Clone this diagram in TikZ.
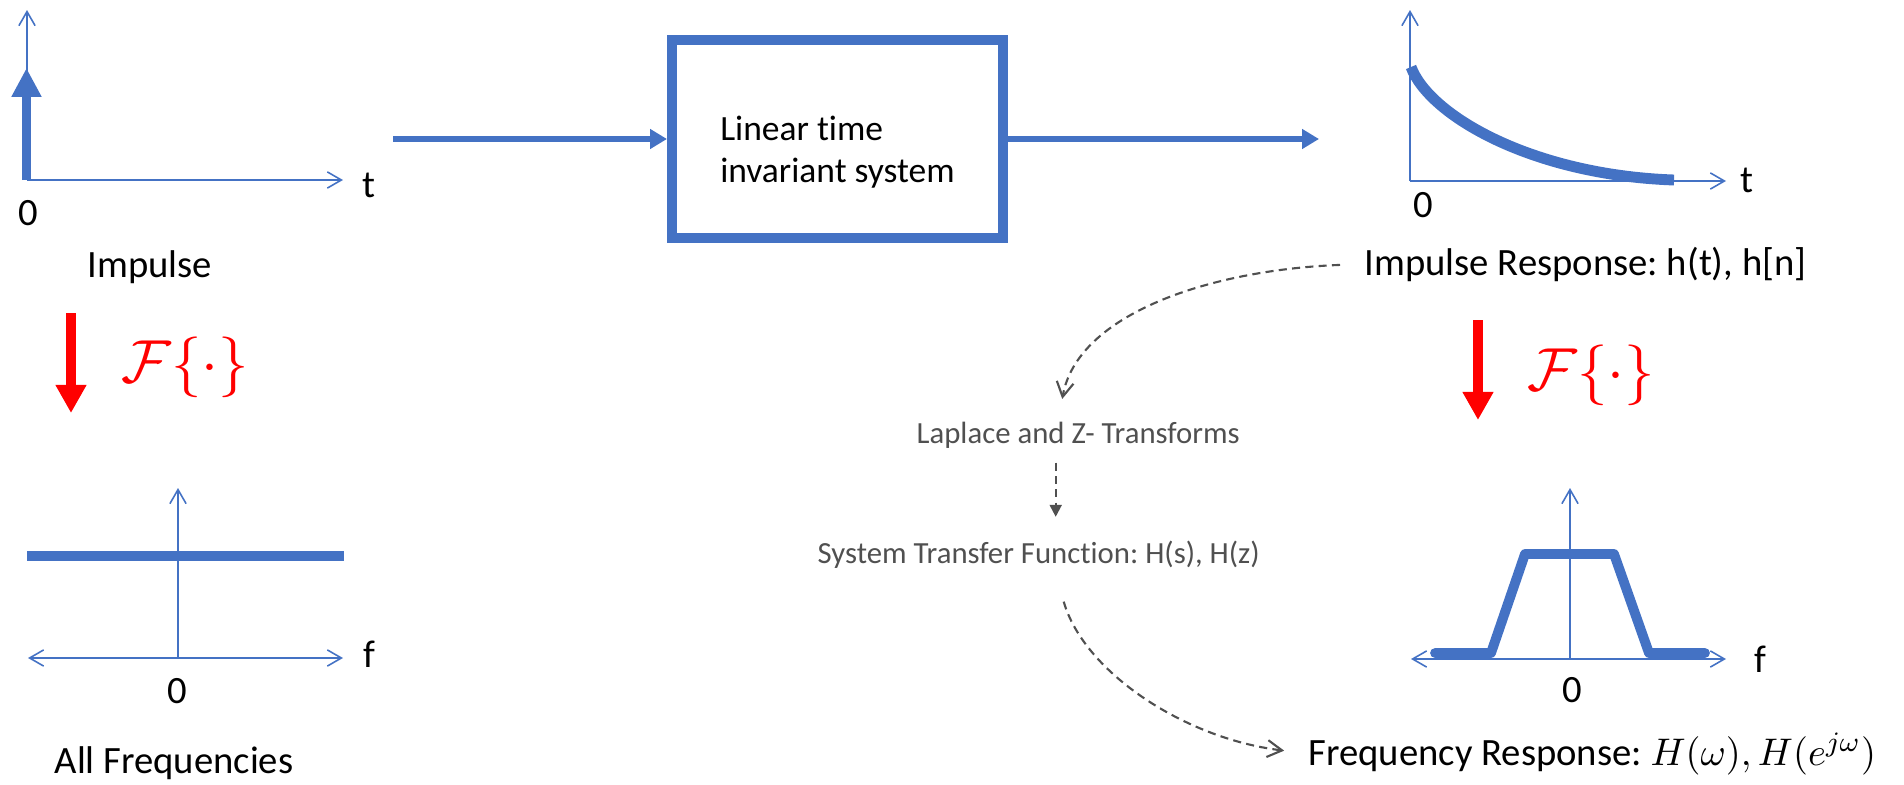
\documentclass[tikz,border=0pt]{standalone}
\usepackage{fontspec}
\setmainfont{Carlito}[Ligatures=NoCommon]
\usepackage{amsmath, amssymb}
\usetikzlibrary{arrows.meta}

\definecolor{ltiblue}{HTML}{4472C4}
\definecolor{notegray}{HTML}{505050}

\tikzset{
	axisline/.style={ltiblue, line width=0.45pt, -{Straight Barb[length=4pt,width=4.6pt]}},
	axisboth/.style={ltiblue, line width=0.45pt, {Straight Barb[length=4pt,width=4.6pt]}-{Straight Barb[length=4pt,width=4.6pt]}},
	signal/.style={ltiblue, line width=2.8pt},
	flow/.style={ltiblue, line width=1.85pt, -{Triangle[length=4.8pt,width=5.4pt]}},
	fourier/.style={red, line width=2.7pt, -{Triangle[length=8pt,width=8.3pt]}},
	ltibox/.style={draw=ltiblue, line width=2.85pt, minimum width=3.31cm, minimum height=1.98cm},
	lbl/.style={font=\fontsize{11}{13}\selectfont, anchor=base, inner sep=0pt},
	boxtext/.style={font=\fontsize{10.1}{12}\selectfont, align=left, inner sep=0pt},
	note/.style={font=\fontsize{8.75}{10}\selectfont, text=notegray, anchor=base west, inner sep=0pt},
	noteflow/.style={notegray, line width=0.6pt, dash pattern=on 2.3pt off 1.5pt},
	ftlbl/.style={red, font=\fontsize{17}{20}\selectfont, inner sep=0pt}
}

\begin{document}
\frenchspacing
\begin{tikzpicture}
	\useasboundingbox (0,0) rectangle (19.04,-7.85);

	% impulse input
	\draw[axisline] (0.27,-1.80) -- (3.43,-1.80);
	\draw[axisline] (0.27,-1.80) -- (0.27,-0.10);
	\draw[ltiblue, line width=2.6pt, -{Triangle[length=8.2pt,width=8pt]}] (0.265,-1.80) -- (0.265,-0.68);
	\node[lbl] (tin) at (3.69,-1.97) {t};
	\node[lbl] (zin) at (0.285,-2.25) {0};
	\node[lbl] (imp) at (1.50,-2.77) {Impulse};

	% system block
	\node[ltibox] (lti) at (8.375,-1.39) {};
	\node[boxtext] (ltitext) at ([yshift=-0.13cm]lti.center) {Linear time\\invariant system};
	\coordinate (src) at (3.93,-1.39);
	\coordinate (snk) at (13.19,-1.39);
	\draw[flow] (src) -- (lti.west);
	\draw[flow] (lti.east) -- (snk);

	% impulse response
	\draw[axisline] (14.10,-1.81) -- (17.26,-1.81);
	\draw[axisline] (14.10,-1.81) -- (14.10,-0.10);
	\draw[signal, line width=3.1pt] (14.11,-0.67) .. controls (14.29,-1.15) and (15.31,-1.75) .. (16.74,-1.80);
	\node[lbl] (tout) at (17.47,-1.93) {t};
	\node[lbl] (zout) at (14.23,-2.17) {0};
	\node[lbl, anchor=base west] (irlabel) at (13.64,-2.75) {Impulse Response: h(t), h[n]};

	% fourier transforms
	\coordinate (fa1) at (0.71,-3.13);
	\coordinate (fb1) at (0.71,-4.13);
	\coordinate (fa2) at (14.78,-3.20);
	\coordinate (fb2) at (14.78,-4.20);
	\draw[fourier] (fa1) -- (fb1);
	\draw[fourier] (fa2) -- (fb2);
	\node[ftlbl] (ft1) at (1.85,-3.67) {$\mathcal{F}\{\cdot\}$};
	\node[ftlbl] (ft2) at (15.91,-3.75) {$\mathcal{F}\{\cdot\}$};

	% flat spectrum
	\draw[axisboth] (0.28,-6.58) -- (3.43,-6.58);
	\draw[axisline] (1.78,-6.58) -- (1.78,-4.88);
	\draw[signal, line width=2.6pt] (0.27,-5.56) -- (3.44,-5.56);
	\node[lbl] (fin) at (3.69,-6.67) {f};
	\node[lbl] (zf1) at (1.77,-7.03) {0};
	\node[lbl] (allf) at (1.74,-7.73) {All Frequencies};

	% frequency response
	\draw[axisboth] (14.11,-6.59) -- (17.26,-6.59);
	\draw[axisline] (15.70,-6.59) -- (15.70,-4.88);
	\draw[signal, line cap=round, line join=round] (14.35,-6.53) -- (14.91,-6.53) -- (15.25,-5.54)
		-- (16.14,-5.54) -- (16.49,-6.53) -- (17.05,-6.53);
	\node[lbl] (fout) at (17.60,-6.72) {f};
	\node[lbl] (zf2) at (15.72,-7.02) {0};
	\node[lbl, anchor=base west] (frlabel) at (13.08,-7.65) {Frequency Response: $H(\omega), H(e^{j\omega})$};

	% transform notes
	\node[note] (lap) at (9.16,-4.43) {Laplace and Z- Transforms};
	\node[note] (stf) at (8.17,-5.63) {System Transfer Function: H(s), H(z)};
	\draw[noteflow, -{Straight Barb[length=4.2pt,width=4.8pt]}, shorten <=0.24cm]
		(irlabel.west) .. controls +(-1.54,-0.06) and +(0.15,0.85) .. ([shift={(-0.16,0.22)}]lap.north);
	\draw[noteflow, -{Triangle[length=3.4pt,width=3.4pt]}, shorten <=0.14cm, shorten >=0.23cm]
		([xshift=-0.225cm]lap.south) -- ([xshift=-0.225cm]lap.south |- stf.north);
	\draw[noteflow, -{Straight Barb[length=4.2pt,width=4.8pt]}, shorten >=0.24cm]
		([shift={(0.25,-0.33)}]stf.south) .. controls +(0.2,-0.7) and +(-1.24,0.15) .. (frlabel.west);
\end{tikzpicture}
\end{document}
